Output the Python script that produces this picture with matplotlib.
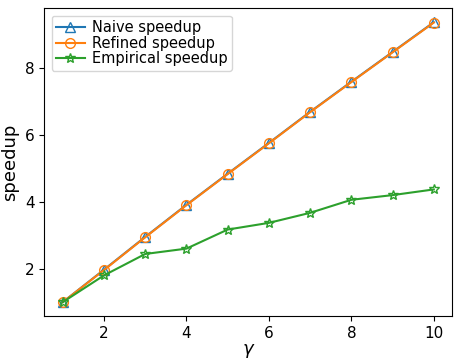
import numpy as np
import matplotlib.pyplot as plt

gamma = [1, 2, 3, 4, 5, 6, 7, 8, 9, 10]
naive = [1.0, 1.97, 2.95, 3.91, 4.84, 5.76, 6.69, 7.59, 8.48, 9.37]
refined = [1.0, 1.96, 2.94, 3.90, 4.83, 5.75, 6.68, 7.58, 8.47, 9.36]
empirical = [1.0, 1.80, 2.44, 2.60, 3.17, 3.37, 3.67, 4.06, 4.20, 4.37]

fig = plt.figure(figsize=(4.56, 3.58), dpi=100)
ax = fig.add_axes([0.097, 0.117, 0.895, 0.86])

ax.plot(gamma, naive, marker="^", mfc="none", markersize=7, label="Naive speedup")
ax.plot(gamma, refined, marker="o", mfc="none", markersize=7, label="Refined speedup")
ax.plot(gamma, empirical, marker="*", mfc="none", markersize=7, label="Empirical speedup")

ax.set_xticks([2, 4, 6, 8, 10])
ax.set_yticks([2, 4, 6, 8])
ax.tick_params(labelsize=11)
ax.set_xlabel(r"$\gamma$", fontsize=13, labelpad=1)
ax.set_ylabel("speedup", fontsize=13)
ax.legend(loc="upper left", fontsize=10.5, borderpad=0.3, labelspacing=0.05,
          handletextpad=0.5)

plt.savefig("out.png", dpi=100)
